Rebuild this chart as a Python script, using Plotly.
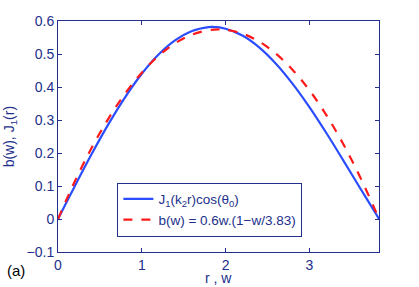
import plotly.graph_objects as go

# r / w sample positions
r_vals = [0, 0.2, 0.4, 0.6, 0.8, 1.0, 1.2, 1.4, 1.6, 1.8, 1.84, 2.0, 2.2, 2.4,
          2.6, 2.8, 3.0, 3.2, 3.4, 3.6, 3.8, 3.83]
# J1(k2 r)cos(theta0) curve (blue)
j1_vals = [0, 0.0995, 0.1960, 0.2867, 0.3688, 0.4401, 0.4983, 0.5419, 0.5699,
           0.5815, 0.5819, 0.5767, 0.5560, 0.5202, 0.4708, 0.4097, 0.3391,
           0.2613, 0.1792, 0.0955, 0.0128, 0.0]

w_vals = [0, 0.2, 0.4, 0.6, 0.8, 1.0, 1.2, 1.4, 1.6, 1.8, 1.915, 2.0, 2.2, 2.4,
          2.6, 2.8, 3.0, 3.2, 3.4, 3.6, 3.8, 3.83]
# b(w) approximation curve (red dashed)
b_vals = [0, 0.1137, 0.2149, 0.3036, 0.3797, 0.4433, 0.4944, 0.5329, 0.5590,
          0.5724, 0.5745, 0.5734, 0.5618, 0.5377, 0.5010, 0.4518, 0.3901,
          0.3158, 0.2290, 0.1297, 0.0179, 0.0]

x_ticks = [0, 1, 2, 3]
y_ticks = [-0.1, 0, 0.1, 0.2, 0.3, 0.4, 0.5, 0.6]
y_tick_text = ["\u22120.1", "0", "0.1", "0.2", "0.3", "0.4", "0.5", "0.6"]

navy = "#22308c"
font = "Liberation Sans, Arial, sans-serif"

fig = go.Figure()
fig.add_trace(go.Scatter(
    x=r_vals, y=j1_vals, mode="lines",
    line=dict(color="#2a4dff", width=2.2, shape="spline"),
    name="J<sub>1</sub>(k<sub>2</sub>r)cos(\u03b8<sub>0</sub>)"))
fig.add_trace(go.Scatter(
    x=w_vals, y=b_vals, mode="lines",
    line=dict(color="#ff1a1a", width=2.2, dash="dash", shape="spline"),
    name="b(w) = 0.6w.(1\u2212w/3.83)"))

axis_common = dict(
    showgrid=False, zeroline=False, showline=True, linecolor=navy, linewidth=1,
    mirror="ticks", ticks="inside", ticklen=4, tickcolor=navy, automargin=False,
    tickfont=dict(family=font, size=14, color=navy),
)

fig.update_layout(
    width=419, height=287,
    margin=dict(l=58, r=40, t=21, b=35),
    paper_bgcolor="white", plot_bgcolor="white",
    font=dict(family=font, size=14, color=navy),
    showlegend=True,
    legend=dict(x=0.185, y=0.300, xanchor="left", yanchor="top",
                bordercolor=navy, borderwidth=1, bgcolor="white",
                font=dict(family=font, size=13.5, color=navy),
                tracegroupgap=0, itemwidth=30),
    xaxis=dict(range=[0, 3.83], tickvals=x_ticks, **axis_common),
    yaxis=dict(range=[-0.1, 0.6], tickvals=y_ticks, ticktext=y_tick_text,
               **axis_common),
)

fig.add_annotation(text="r , w", xref="paper", yref="paper", x=0.5, y=-0.112,
                   showarrow=False, xanchor="center", yanchor="middle",
                   font=dict(family=font, size=14, color=navy))
fig.add_annotation(text="b(w), J<sub>1</sub>(r)", xref="paper", yref="paper",
                   x=-0.15, y=0.5, textangle=-90, showarrow=False,
                   xanchor="center", yanchor="middle",
                   font=dict(family=font, size=14, color=navy))
fig.add_annotation(text="(a)", xref="paper", yref="paper", x=-0.132, y=-0.082,
                   showarrow=False, xanchor="center", yanchor="middle",
                   font=dict(family=font, size=15, color="black"))

fig.write_html("out.html",
               config={"displayModeBar": False},
               post_script="document.body.style.margin='0';"
                           "document.body.style.overflow='hidden';")
